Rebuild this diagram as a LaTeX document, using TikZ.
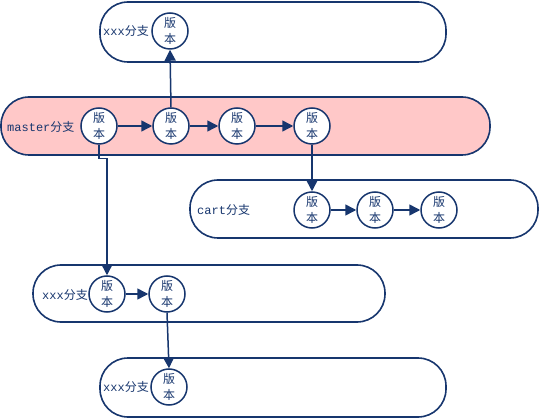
\documentclass[tikz,border=0pt]{standalone}
\usepackage{fontspec}
\setmainfont{DejaVu Sans}
\newfontfamily\cjk{Noto Sans CJK SC}
\newfontfamily\monof{Liberation Mono}
\usetikzlibrary{arrows.meta}
\definecolor{ink}{HTML}{17366E}
\definecolor{pinkfill}{HTML}{FFC8C8}
\tikzset{
  lane/.style={draw=ink, line width=1.6pt, rounded corners=28pt, inner sep=0pt},
  ver/.style={circle, draw=ink, fill=white, line width=1.5pt, minimum size=36pt, inner sep=0pt,
    text=ink, font=\cjk\fontsize{12}{16}\selectfont, align=center},
  lbl/.style={anchor=west, inner sep=0pt, text=ink, font=\fontsize{12}{13}\selectfont},
  conn/.style={draw=ink, line width=1.5pt, -{Triangle[length=11pt,width=11pt]}},
}
\newcommand{\lab}[1]{{\monof #1}{\cjk 分支}}
\begin{document}
\begin{tikzpicture}[x=1pt,y=-1pt]
\useasboundingbox (0,0) rectangle (540,419);
\fill[white] (0,0) rectangle (540,419);
% lanes
\node[lane, minimum width=346pt, minimum height=60pt] (L1) at (273,32) {};
\node[lane, fill=pinkfill, minimum width=489pt, minimum height=58pt] (L2) at (245.5,126) {};
\node[lane, minimum width=348pt, minimum height=58pt] (L3) at (364,209) {};
\node[lane, minimum width=352pt, minimum height=57pt] (L4) at (209,293.5) {};
\node[lane, minimum width=346pt, minimum height=59pt] (L5) at (273,387.5) {};
% labels
\node[lbl] (t1) at (103,31) {\lab{xxx}};
\node[lbl] (t2) at (7,127) {\lab{master}};
\node[lbl] (t3) at (197,210) {\lab{cart}};
\node[lbl] (t4) at (42,295) {\lab{xxx}};
\node[lbl] (t5) at (103,387) {\lab{xxx}};
% versions
\node[ver] (a1) at (170,31) {版\\本};
\node[ver] (m1) at (99,126) {版\\本};
\node[ver] (m2) at (171,126) {版\\本};
\node[ver] (m3) at (237,126) {版\\本};
\node[ver] (m4) at (312,126) {版\\本};
\node[ver] (c1) at (312,210) {版\\本};
\node[ver] (c2) at (375,210) {版\\本};
\node[ver] (c3) at (439,210) {版\\本};
\node[ver] (x1) at (107,294) {版\\本};
\node[ver] (x2) at (167,294) {版\\本};
\node[ver] (b1) at (169,387) {版\\本};
% connectors
\draw[conn] (m1) -- (m2);
\draw[conn] (m2) -- (m3);
\draw[conn] (m3) -- (m4);
\draw[conn] (m2.north) -- (a1.south);
\draw[conn] (m4.south) -- (c1.north);
\draw[conn] (c1) -- (c2);
\draw[conn] (c2) -- (c3);
\draw[conn] (m1.south) -- ++(0,14) -| (x1.north);
\draw[conn] (x1) -- (x2);
\draw[conn] (x2.south) -- (b1.north);
\end{tikzpicture}
\end{document}
